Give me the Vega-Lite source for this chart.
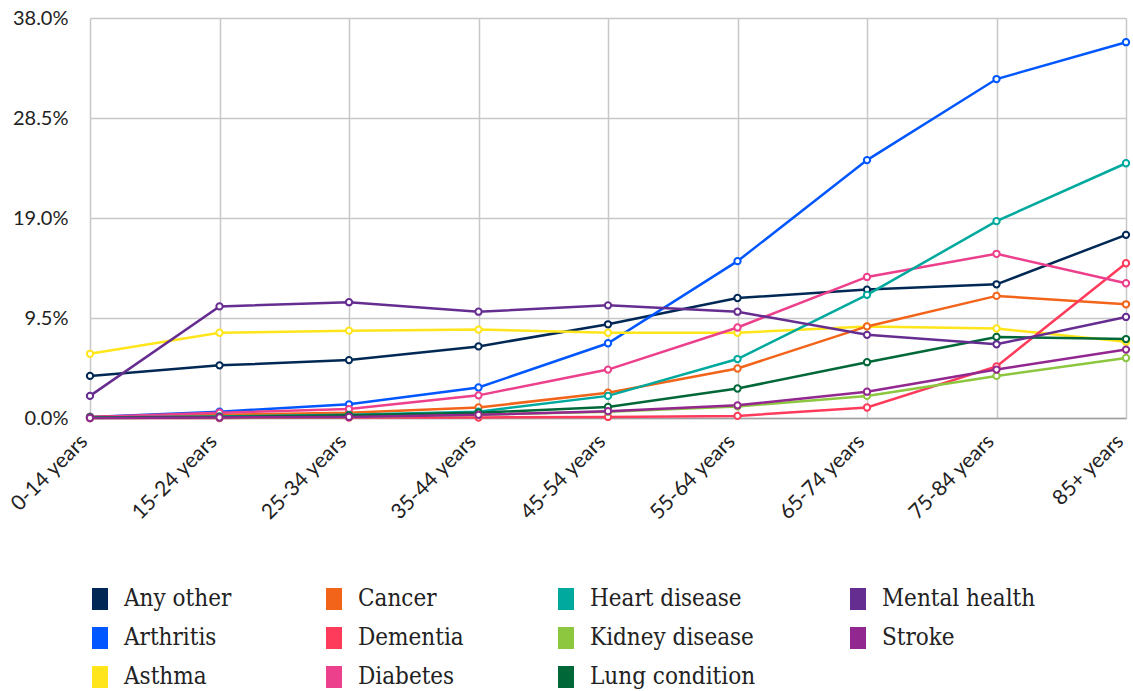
{
  "$schema": "https://vega.github.io/schema/vega-lite/v6.json",
  "width": 1036,
  "height": 400,
  "autosize": "none",
  "padding": {"left": 90, "top": 18, "right": 7, "bottom": 273},
  "background": "white",
  "config": {
    "view": {"stroke": null},
    "font": "Lato"
  },
  "data": {
    "values": [
      {"age": "0-14 years", "condition": "Any other", "value": 4.0},
      {"age": "15-24 years", "condition": "Any other", "value": 5.0},
      {"age": "25-34 years", "condition": "Any other", "value": 5.5},
      {"age": "35-44 years", "condition": "Any other", "value": 6.8},
      {"age": "45-54 years", "condition": "Any other", "value": 8.9},
      {"age": "55-64 years", "condition": "Any other", "value": 11.4},
      {"age": "65-74 years", "condition": "Any other", "value": 12.2},
      {"age": "75-84 years", "condition": "Any other", "value": 12.7},
      {"age": "85+ years", "condition": "Any other", "value": 17.4},
      {"age": "0-14 years", "condition": "Arthritis", "value": 0.1},
      {"age": "15-24 years", "condition": "Arthritis", "value": 0.6},
      {"age": "25-34 years", "condition": "Arthritis", "value": 1.3},
      {"age": "35-44 years", "condition": "Arthritis", "value": 2.9},
      {"age": "45-54 years", "condition": "Arthritis", "value": 7.1},
      {"age": "55-64 years", "condition": "Arthritis", "value": 14.9},
      {"age": "65-74 years", "condition": "Arthritis", "value": 24.5},
      {"age": "75-84 years", "condition": "Arthritis", "value": 32.2},
      {"age": "85+ years", "condition": "Arthritis", "value": 35.7},
      {"age": "0-14 years", "condition": "Asthma", "value": 6.1},
      {"age": "15-24 years", "condition": "Asthma", "value": 8.1},
      {"age": "25-34 years", "condition": "Asthma", "value": 8.3},
      {"age": "35-44 years", "condition": "Asthma", "value": 8.4},
      {"age": "45-54 years", "condition": "Asthma", "value": 8.1},
      {"age": "55-64 years", "condition": "Asthma", "value": 8.1},
      {"age": "65-74 years", "condition": "Asthma", "value": 8.7},
      {"age": "75-84 years", "condition": "Asthma", "value": 8.5},
      {"age": "85+ years", "condition": "Asthma", "value": 7.25},
      {"age": "0-14 years", "condition": "Cancer", "value": 0.1},
      {"age": "15-24 years", "condition": "Cancer", "value": 0.3},
      {"age": "25-34 years", "condition": "Cancer", "value": 0.5},
      {"age": "35-44 years", "condition": "Cancer", "value": 1.0},
      {"age": "45-54 years", "condition": "Cancer", "value": 2.4},
      {"age": "55-64 years", "condition": "Cancer", "value": 4.7},
      {"age": "65-74 years", "condition": "Cancer", "value": 8.7},
      {"age": "75-84 years", "condition": "Cancer", "value": 11.6},
      {"age": "85+ years", "condition": "Cancer", "value": 10.8},
      {"age": "0-14 years", "condition": "Dementia", "value": 0.0},
      {"age": "15-24 years", "condition": "Dementia", "value": 0.0},
      {"age": "25-34 years", "condition": "Dementia", "value": 0.05},
      {"age": "35-44 years", "condition": "Dementia", "value": 0.05},
      {"age": "45-54 years", "condition": "Dementia", "value": 0.1},
      {"age": "55-64 years", "condition": "Dementia", "value": 0.2},
      {"age": "65-74 years", "condition": "Dementia", "value": 1.0},
      {"age": "75-84 years", "condition": "Dementia", "value": 4.9},
      {"age": "85+ years", "condition": "Dementia", "value": 14.7},
      {"age": "0-14 years", "condition": "Diabetes", "value": 0.1},
      {"age": "15-24 years", "condition": "Diabetes", "value": 0.5},
      {"age": "25-34 years", "condition": "Diabetes", "value": 0.85},
      {"age": "35-44 years", "condition": "Diabetes", "value": 2.15},
      {"age": "45-54 years", "condition": "Diabetes", "value": 4.6},
      {"age": "55-64 years", "condition": "Diabetes", "value": 8.6},
      {"age": "65-74 years", "condition": "Diabetes", "value": 13.4},
      {"age": "75-84 years", "condition": "Diabetes", "value": 15.6},
      {"age": "85+ years", "condition": "Diabetes", "value": 12.8},
      {"age": "0-14 years", "condition": "Heart disease", "value": 0.05},
      {"age": "15-24 years", "condition": "Heart disease", "value": 0.15},
      {"age": "25-34 years", "condition": "Heart disease", "value": 0.3},
      {"age": "35-44 years", "condition": "Heart disease", "value": 0.6},
      {"age": "45-54 years", "condition": "Heart disease", "value": 2.1},
      {"age": "55-64 years", "condition": "Heart disease", "value": 5.6},
      {"age": "65-74 years", "condition": "Heart disease", "value": 11.7},
      {"age": "75-84 years", "condition": "Heart disease", "value": 18.7},
      {"age": "85+ years", "condition": "Heart disease", "value": 24.2},
      {"age": "0-14 years", "condition": "Kidney disease", "value": 0.0},
      {"age": "15-24 years", "condition": "Kidney disease", "value": 0.05},
      {"age": "25-34 years", "condition": "Kidney disease", "value": 0.1},
      {"age": "35-44 years", "condition": "Kidney disease", "value": 0.3},
      {"age": "45-54 years", "condition": "Kidney disease", "value": 0.6},
      {"age": "55-64 years", "condition": "Kidney disease", "value": 1.1},
      {"age": "65-74 years", "condition": "Kidney disease", "value": 2.1},
      {"age": "75-84 years", "condition": "Kidney disease", "value": 4.0},
      {"age": "85+ years", "condition": "Kidney disease", "value": 5.7},
      {"age": "0-14 years", "condition": "Lung condition", "value": 0.05},
      {"age": "15-24 years", "condition": "Lung condition", "value": 0.1},
      {"age": "25-34 years", "condition": "Lung condition", "value": 0.25},
      {"age": "35-44 years", "condition": "Lung condition", "value": 0.5},
      {"age": "45-54 years", "condition": "Lung condition", "value": 1.05},
      {"age": "55-64 years", "condition": "Lung condition", "value": 2.8},
      {"age": "65-74 years", "condition": "Lung condition", "value": 5.3},
      {"age": "75-84 years", "condition": "Lung condition", "value": 7.7},
      {"age": "85+ years", "condition": "Lung condition", "value": 7.5},
      {"age": "0-14 years", "condition": "Mental health", "value": 2.1},
      {"age": "15-24 years", "condition": "Mental health", "value": 10.6},
      {"age": "25-34 years", "condition": "Mental health", "value": 11.0},
      {"age": "35-44 years", "condition": "Mental health", "value": 10.1},
      {"age": "45-54 years", "condition": "Mental health", "value": 10.7},
      {"age": "55-64 years", "condition": "Mental health", "value": 10.1},
      {"age": "65-74 years", "condition": "Mental health", "value": 7.9},
      {"age": "75-84 years", "condition": "Mental health", "value": 7.0},
      {"age": "85+ years", "condition": "Mental health", "value": 9.6},
      {"age": "0-14 years", "condition": "Stroke", "value": 0.0},
      {"age": "15-24 years", "condition": "Stroke", "value": 0.05},
      {"age": "25-34 years", "condition": "Stroke", "value": 0.1},
      {"age": "35-44 years", "condition": "Stroke", "value": 0.3},
      {"age": "45-54 years", "condition": "Stroke", "value": 0.65},
      {"age": "55-64 years", "condition": "Stroke", "value": 1.2},
      {"age": "65-74 years", "condition": "Stroke", "value": 2.5},
      {"age": "75-84 years", "condition": "Stroke", "value": 4.6},
      {"age": "85+ years", "condition": "Stroke", "value": 6.5}
    ]
  },
  "encoding": {
    "x": {
      "field": "age",
      "type": "ordinal",
      "sort": ["0-14 years", "15-24 years", "25-34 years", "35-44 years", "45-54 years", "55-64 years", "65-74 years", "75-84 years", "85+ years"],
      "scale": {"type": "point", "padding": 0},
      "axis": {
        "title": null,
        "grid": true,
        "gridColor": "#c8c8c8",
        "gridWidth": 1.5,
        "domain": true,
        "domainColor": "#a0a0a0",
        "domainWidth": 1.5,
        "ticks": false,
        "labelAngle": -45,
        "labelAlign": "right",
        "labelBaseline": "middle",
        "labelPadding": 20,
        "labelOffset": -6,
        "labelFont": "Lato",
        "labelFontSize": 21,
        "labelColor": "#222222"
      }
    },
    "y": {
      "field": "value",
      "type": "quantitative",
      "scale": {"domain": [0, 38], "nice": false, "zero": true},
      "axis": {
        "title": null,
        "values": [0, 9.5, 19, 28.5, 38],
        "labelExpr": "format(datum.value, '.1f') + '%'",
        "grid": true,
        "gridColor": "#c8c8c8",
        "gridWidth": 1.5,
        "domain": false,
        "ticks": false,
        "labelPadding": 22,
        "labelFont": "Lato",
        "labelFontSize": 20,
        "labelColor": "#222222"
      }
    },
    "color": {
      "field": "condition",
      "type": "nominal",
      "scale": {
        "domain": ["Any other", "Arthritis", "Asthma", "Cancer", "Dementia", "Diabetes", "Heart disease", "Kidney disease", "Lung condition", "Mental health", "Stroke"],
        "range": ["#002855", "#0057ff", "#ffe51a", "#f26419", "#ff3b5c", "#ec3f8c", "#00a99d", "#8dc63f", "#006838", "#662d91", "#92278f"]
      },
      "legend": {
        "title": null,
        "orient": "none",
        "legendX": -2,
        "legendY": 569,
        "columns": 4,
        "symbolType": "M-0.73,-1L0.73,-1L0.73,1L-0.73,1Z",
        "symbolSize": 484,
        "symbolStrokeWidth": 0,
        "labelFont": "DejaVu Serif Condensed, DejaVu Serif",
        "labelFontSize": 24,
        "labelColor": "#222222",
        "labelOffset": 12,
        "labelLimit": 400,
        "columnPadding": 90,
        "rowPadding": 15,
        "encode": {
          "symbols": {
            "update": {
              "fill": {"scale": "color", "field": "value"},
              "fillOpacity": {"value": 1},
              "strokeWidth": {"value": 0},
              "opacity": {"value": 1}
            }
          }
        }
      }
    }
  },
  "layer": [
    {"mark": {"type": "line", "strokeWidth": 2.5}},
    {"mark": {"type": "point", "filled": false, "fill": "white", "fillOpacity": 1, "strokeWidth": 2, "size": 40, "opacity": 1}}
  ]
}
